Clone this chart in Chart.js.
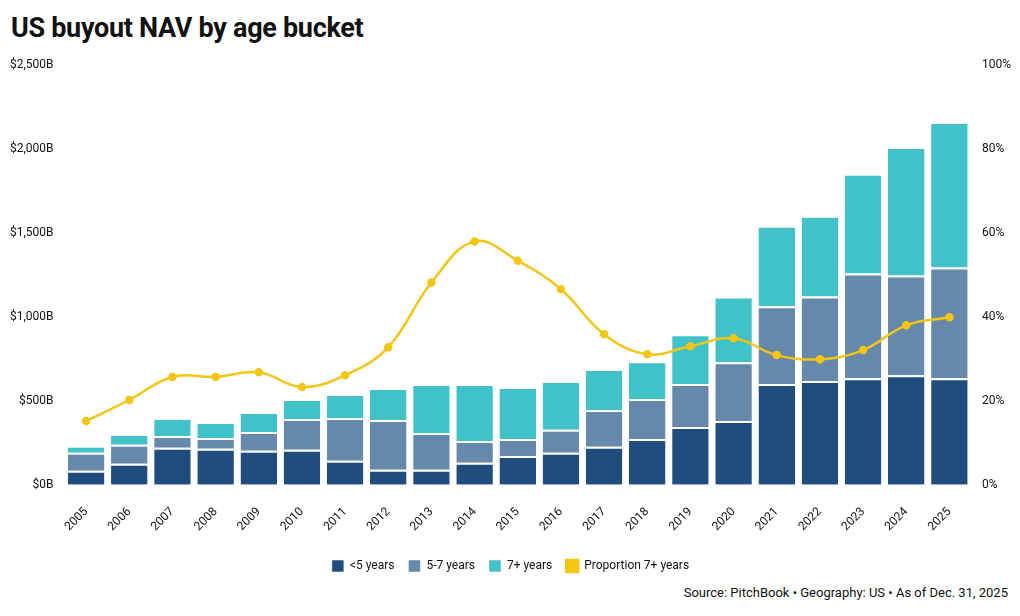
<!DOCTYPE html>
<html><head><meta charset="utf-8">
<script src="https://cdn.jsdelivr.net/npm/chart.js@4"></script>
<style>
body{margin:0;background:#fff;font-family:Roboto,sans-serif;}
#t{position:absolute;left:11px;top:12px;font-size:27px;font-weight:bold;color:#111;letter-spacing:-0.3px}
#s{position:absolute;right:12px;top:585px;font-size:13px;color:#111}
#w{position:absolute;left:0;top:55px;width:1020px;height:527px}
</style></head><body>
<div id="t">US buyout NAV by age bucket</div>
<div id="w"><canvas id="c"></canvas></div>
<div id="s">Source: PitchBook • Geography: US • As of Dec. 31, 2025</div>
<script>
const years=['2005','2006','2007','2008','2009','2010','2011','2012','2013','2014','2015','2016','2017','2018','2019','2020','2021','2022','2023','2024','2025'];
const under5=[83,125,220,214,202,208,143,89,89,131,172,190,226,273,344,380,600,618,635,653,635];
const y5to7=[107,113,71,65,113,184,255,297,220,130,101,137,219,238,256,350,463,504,624,594,660];
const y7plus=[42,65,107,95,118,119,142,190,291,339,309,291,244,225,297,392,481,481,594,766,867];
const prop7=[15.2,20.2,25.7,25.7,26.8,23.3,26.1,32.8,48.2,58,53.4,46.6,35.9,31.1,33,34.9,30.9,29.9,32.1,38,39.9];
Chart.defaults.font.family='Roboto';
Chart.defaults.font.size=12;
Chart.defaults.color='#111';
const bar=(l,d,c)=>({type:'bar',label:l,data:d,backgroundColor:c,borderColor:'#fff',borderWidth:{top:2,left:0,right:0,bottom:0},borderSkipped:false,yAxisID:'y',stack:'s',order:2,barPercentage:0.92,categoryPercentage:0.92});
new Chart(document.getElementById('c'),{
data:{labels:years,datasets:[
bar('<5 years',under5,'#1f4e7e'),
bar('5-7 years',y5to7,'#6688aa'),
bar('7+ years',y7plus,'#40c2c8'),
{type:'line',label:'Proportion 7+ years',data:prop7,yAxisID:'y2',borderColor:'#f3c515',backgroundColor:'#f3c515',borderWidth:2.5,pointRadius:3,tension:0.4,order:1}
]},
options:{responsive:true,maintainAspectRatio:false,animation:false,
layout:{padding:{left:7,right:6,top:0}},
plugins:{legend:{position:'bottom',labels:{boxWidth:12,boxHeight:12,padding:14,font:{size:12},sort:(a,b)=>a.datasetIndex-b.datasetIndex}},tooltip:{enabled:false}},
scales:{
x:{stacked:true,grid:{display:false},border:{display:false},ticks:{maxRotation:45,minRotation:45,padding:12,font:{size:12}}},
y:{stacked:true,min:0,max:2500,grid:{display:false},border:{display:false},ticks:{stepSize:500,callback:v=>'$'+v.toLocaleString('en-US')+'B'}},
y2:{position:'right',min:0,max:100,grid:{display:false},border:{display:false},ticks:{stepSize:20,callback:v=>v+'%'}}
}}});
</script></body></html>
